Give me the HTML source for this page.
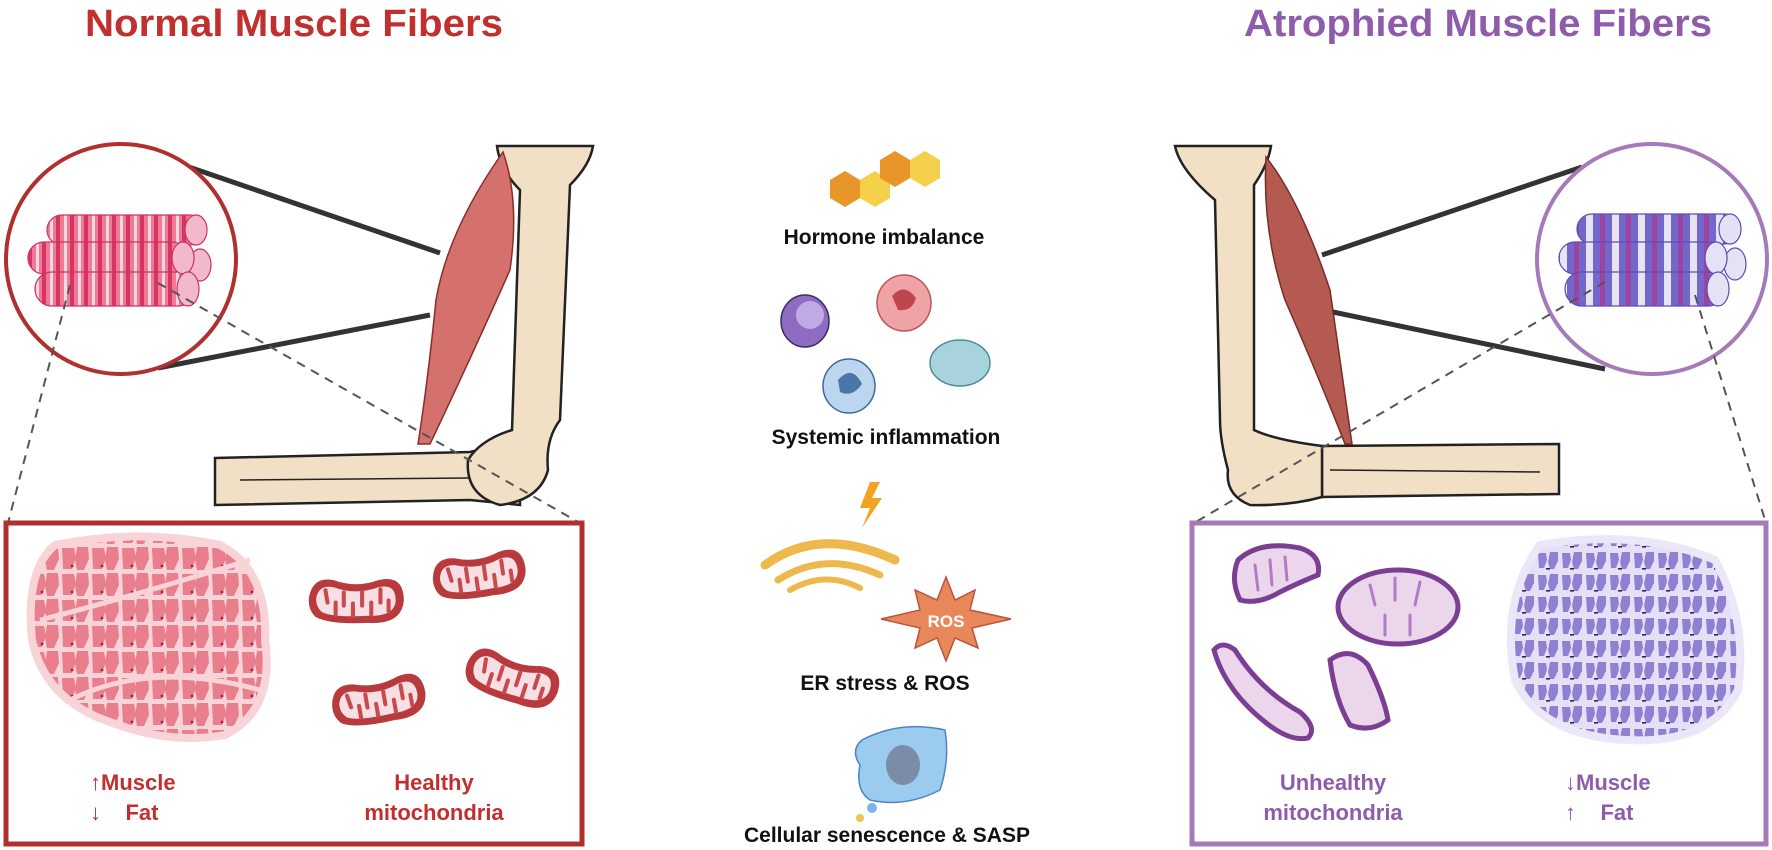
<!DOCTYPE html>
<html><head><meta charset="utf-8"><style>
html,body{margin:0;padding:0;background:#fff;}
svg{display:block;}
text{font-family:"Liberation Sans",sans-serif;font-weight:bold;}
</style></head><body>
<svg width="1772" height="850" viewBox="0 0 1772 850" xmlns="http://www.w3.org/2000/svg">
<defs>
<pattern id="cellR" width="30" height="26" patternUnits="userSpaceOnUse">
<rect width="30" height="26" fill="#f8d4d8"/>
<path d="M2 2h12l2 10-4 11H3zM17 1h11l1 12-5 11h-7l-2-10z" fill="#e97f8c"/>
<circle cx="12" cy="20" r="1.4" fill="#b0184a"/>
</pattern>
<pattern id="cellP" width="24" height="22" patternUnits="userSpaceOnUse">
<rect width="24" height="22" fill="#e6e0f6"/>
<path d="M2 3h8l1 7-3 8H3zM14 2h8l0 9-4 8h-4l-2-7z" fill="#8f80d2"/>
<rect x="10" y="18" width="4" height="1.6" fill="#2e2760"/>
</pattern>
<pattern id="fibR" width="14" height="10" patternUnits="userSpaceOnUse">
<rect width="14" height="10" fill="#ef7a95"/><rect width="4" height="10" fill="#d63563"/><rect x="8" width="3" height="10" fill="#fbd7df"/>
</pattern>
<pattern id="fibP" width="26" height="10" patternUnits="userSpaceOnUse">
<rect width="26" height="10" fill="#7467cc"/><rect width="7" height="10" fill="#e8e4f8"/><rect x="14" width="5" height="10" fill="#9c45a0"/>
</pattern>
<symbol id="mito" viewBox="0 0 100 56">
<path d="M4 24 Q8 4 28 8 Q50 16 72 8 Q97 2 97 28 Q95 52 62 50 Q24 52 10 44 Q2 36 4 24Z" fill="#b83a3c"/>
<path d="M11 25 Q14 12 28 15 Q50 23 72 15 Q89 11 89 28 Q88 44 62 43 Q26 45 16 39 Q10 33 11 25Z" fill="#f7dfe3"/>
<g stroke="#c94a4e" stroke-width="4" stroke-linecap="round">
<line x1="20" y1="18" x2="22" y2="30"/><line x1="30" y1="42" x2="30" y2="30"/><line x1="38" y1="20" x2="38" y2="33"/>
<line x1="47" y1="43" x2="47" y2="31"/><line x1="56" y1="20" x2="56" y2="33"/><line x1="65" y1="42" x2="65" y2="30"/>
<line x1="74" y1="17" x2="74" y2="30"/><line x1="82" y1="38" x2="82" y2="28"/>
</g>
</symbol>
</defs>

<!-- Titles -->
<text x="294" y="36" font-size="38" fill="#c1302e" text-anchor="middle" textLength="418" lengthAdjust="spacingAndGlyphs">Normal Muscle Fibers</text>
<text x="1478" y="36" font-size="38" fill="#8f5cab" text-anchor="middle" textLength="468" lengthAdjust="spacingAndGlyphs">Atrophied Muscle Fibers</text>

<!-- LEFT ARM -->
<path d="M215 458 L470 452 L520 440 L520 505 L470 500 L215 505 Z" fill="#f1dfc6" stroke="#222" stroke-width="2.5"/>
<line x1="240" y1="480" x2="470" y2="478" stroke="#222" stroke-width="1.5"/>
<path d="M497 146 L593 146 Q590 165 570 185 L560 420 Q545 440 548 470 Q540 500 500 505 Q465 495 468 460 Q480 440 512 430 L520 190 Q500 170 497 146Z" fill="#f1dfc6" stroke="#222" stroke-width="2.5"/>
<path d="M503 152 Q448 230 436 300 Q428 380 418 444 L430 444 Q470 360 510 270 Q520 200 503 152Z" fill="#d4716c" stroke="#8a2d2a" stroke-width="1.5"/>
<line x1="183" y1="165" x2="440" y2="253" stroke="#333" stroke-width="5"/>
<line x1="158" y1="368" x2="430" y2="315" stroke="#333" stroke-width="5"/>
<circle cx="121" cy="259" r="115" fill="#fff" stroke="#b0302f" stroke-width="4"/>
<g stroke="#d0305e" stroke-width="1.2">
<rect x="47" y="215" width="158" height="30" rx="15" fill="url(#fibR)"/>
<rect x="28" y="242" width="160" height="32" rx="16" fill="url(#fibR)"/>
<rect x="35" y="272" width="160" height="34" rx="17" fill="url(#fibR)"/>
<ellipse cx="196" cy="230" rx="11" ry="15" fill="#f2b9cc"/>
<ellipse cx="200" cy="265" rx="11" ry="16" fill="#f2b9cc"/>
<ellipse cx="183" cy="258" rx="11" ry="16" fill="#f2b9cc"/>
<ellipse cx="188" cy="289" rx="11" ry="17" fill="#f2b9cc"/>
</g>
<line x1="70" y1="285" x2="8" y2="523" stroke="#555" stroke-width="2" stroke-dasharray="9,7"/>
<line x1="158" y1="283" x2="580" y2="523" stroke="#555" stroke-width="2" stroke-dasharray="9,7"/>
<rect x="6" y="523" width="576" height="321" fill="#fff" stroke="#b0302f" stroke-width="5"/>
<path d="M55 545 Q140 528 220 545 Q268 570 265 640 Q275 710 225 735 Q170 745 110 722 Q45 700 32 640 Q25 570 55 545Z" fill="url(#cellR)" stroke="#f8d4d8" stroke-width="8"/>
<path d="M40 620 Q120 600 250 560 M70 700 Q150 660 260 690" stroke="#f8d4d8" stroke-width="5" fill="none"/>
<use href="#mito" x="305" y="572" width="102" height="57"/>
<use href="#mito" x="427" y="547" width="104" height="56" transform="rotate(-8 479 575)"/>
<use href="#mito" x="328" y="672" width="101" height="57" transform="rotate(-10 378 700)"/>
<use href="#mito" x="461" y="650" width="102" height="57" transform="rotate(18 512 678)"/>
<text x="90" y="790" font-size="22" fill="#c1302e">↑Muscle</text>
<text x="90" y="820" font-size="22" fill="#c1302e">↓&#160;&#160;&#160;&#160;Fat</text>
<text x="434" y="790" font-size="22" fill="#c1302e" text-anchor="middle">Healthy</text>
<text x="434" y="820" font-size="22" fill="#c1302e" text-anchor="middle">mitochondria</text>

<!-- RIGHT ARM -->
<path d="M1322 446 L1559 444 L1559 494 L1322 497 Z" fill="#f1dfc6" stroke="#222" stroke-width="2.5"/>
<line x1="1330" y1="470" x2="1540" y2="472" stroke="#222" stroke-width="1.5"/>
<path d="M1175 146 L1271 146 Q1268 165 1254 185 L1254 430 Q1275 440 1322 446 L1322 497 Q1290 506 1250 505 Q1225 495 1228 470 Q1220 440 1220 420 L1215 200 Q1180 170 1175 146Z" fill="#f1dfc6" stroke="#222" stroke-width="2.5"/>
<path d="M1266 157 Q1262 230 1285 300 Q1320 380 1345 444 L1352 444 Q1340 360 1330 290 Q1300 200 1266 157Z" fill="#b45a51" stroke="#7a2c28" stroke-width="1.5"/>
<line x1="1322" y1="255" x2="1582" y2="167" stroke="#333" stroke-width="5"/>
<line x1="1333" y1="312" x2="1605" y2="369" stroke="#333" stroke-width="5"/>
<circle cx="1652" cy="259" r="115" fill="#fff" stroke="#a57ab8" stroke-width="4"/>
<g stroke="#5b4cb0" stroke-width="1.2">
<rect x="1577" y="214" width="162" height="30" rx="15" fill="url(#fibP)"/>
<rect x="1559" y="242" width="165" height="32" rx="16" fill="url(#fibP)"/>
<rect x="1565" y="272" width="160" height="34" rx="17" fill="url(#fibP)"/>
<ellipse cx="1730" cy="229" rx="11" ry="15" fill="#e6e2f6"/>
<ellipse cx="1735" cy="264" rx="11" ry="16" fill="#e6e2f6"/>
<ellipse cx="1716" cy="258" rx="11" ry="16" fill="#e6e2f6"/>
<ellipse cx="1718" cy="289" rx="11" ry="17" fill="#e6e2f6"/>
</g>
<line x1="1605" y1="282" x2="1194" y2="523" stroke="#555" stroke-width="2" stroke-dasharray="9,7"/>
<line x1="1695" y1="295" x2="1766" y2="523" stroke="#555" stroke-width="2" stroke-dasharray="9,7"/>
<rect x="1192" y="523" width="574" height="321" fill="#fff" stroke="#a57ab8" stroke-width="5"/>
<path d="M1540 545 Q1640 528 1715 560 Q1748 620 1738 690 Q1710 745 1625 740 Q1540 735 1515 680 Q1500 600 1540 545Z" fill="url(#cellP)" stroke="#ebe6f8" stroke-width="8"/>
<g stroke="#7a3f93" stroke-width="5" fill="#ecd6ec">
<path d="M1238 560 Q1260 540 1300 548 Q1322 555 1318 575 Q1300 582 1280 592 Q1258 605 1240 600 Q1230 580 1238 560Z"/>
<ellipse cx="1398" cy="607" rx="60" ry="37"/>
<path d="M1214 650 Q1222 640 1235 650 Q1260 690 1300 712 Q1318 728 1308 738 Q1290 742 1265 722 Q1225 690 1214 650Z"/>
<path d="M1330 660 Q1350 645 1368 665 Q1385 700 1388 720 Q1370 733 1350 725 Q1335 700 1330 660Z"/>
</g>
<g stroke="#b47ac8" stroke-width="3" stroke-linecap="round">
<line x1="1255" y1="565" x2="1258" y2="590"/><line x1="1270" y1="560" x2="1272" y2="585"/><line x1="1285" y1="557" x2="1287" y2="580"/>
<line x1="1370" y1="585" x2="1375" y2="605"/><line x1="1395" y1="578" x2="1395" y2="600"/><line x1="1420" y1="582" x2="1415" y2="605"/><line x1="1385" y1="635" x2="1385" y2="615"/><line x1="1410" y1="635" x2="1410" y2="615"/>
</g>
<text x="1333" y="790" font-size="22" fill="#8f5cab" text-anchor="middle">Unhealthy</text>
<text x="1333" y="820" font-size="22" fill="#8f5cab" text-anchor="middle">mitochondria</text>
<text x="1565" y="790" font-size="22" fill="#8f5cab">↓Muscle</text>
<text x="1565" y="820" font-size="22" fill="#8f5cab">↑&#160;&#160;&#160;&#160;Fat</text>

<!-- CENTER -->
<g>
<polygon points="830,180 845,171 860,180 860,198 845,207 830,198" fill="#e8952a"/>
<polygon points="860,180 875,171 890,180 890,198 875,207 860,198" fill="#f5d04a"/>
<polygon points="880,160 895,151 910,160 910,178 895,187 880,178" fill="#e8952a"/>
<polygon points="910,160 925,151 940,160 940,178 925,187 910,178" fill="#f5d04a"/>
<text x="884" y="244" font-size="21" fill="#111" text-anchor="middle">Hormone imbalance</text>
<ellipse cx="805" cy="321" rx="24" ry="26" fill="#8d6cc2" stroke="#3b2b62" stroke-width="1.5"/>
<circle cx="810" cy="315" r="14" fill="#c0aae6"/>
<ellipse cx="904" cy="303" rx="27" ry="28" fill="#f0a3a6" stroke="#b65a5e" stroke-width="1.5"/>
<path d="M892 296 Q904 282 916 298 Q912 312 898 310Z" fill="#c0464e"/>
<ellipse cx="849" cy="386" rx="26" ry="27" fill="#bcd6f0" stroke="#3a6a9c" stroke-width="1.5"/>
<path d="M838 380 Q852 364 862 384 Q852 398 840 392Z" fill="#4a77a8"/>
<ellipse cx="960" cy="363" rx="30" ry="23" fill="#a9d3dc" stroke="#4c8c9c" stroke-width="1.5"/>
<text x="886" y="444" font-size="21" fill="#111" text-anchor="middle">Systemic inflammation</text>
<polygon points="870,482 860,508 870,508 862,528 882,498 872,498 880,482" fill="#f2a322"/>
<path d="M765 565 Q820 525 895 560" stroke="#edb84c" stroke-width="9" fill="none" stroke-linecap="round"/>
<path d="M778 580 Q825 550 880 575" stroke="#edb84c" stroke-width="7" fill="none" stroke-linecap="round"/>
<path d="M790 590 Q825 570 860 588" stroke="#edb84c" stroke-width="6" fill="none" stroke-linecap="round"/>
<polygon points="946,577 955,600 975,590 970,610 1011,619 972,628 978,648 955,638 946,661 937,638 915,648 920,628 881,619 920,610 915,590 937,600" fill="#e8885a" stroke="#b8553a" stroke-width="1.5"/>
<text x="946" y="627" font-size="17" fill="#fff" text-anchor="middle" font-weight="normal">ROS</text>
<text x="885" y="690" font-size="21" fill="#111" text-anchor="middle">ER stress &amp; ROS</text>
<path d="M862 740 Q900 720 945 730 Q950 760 940 790 Q905 808 870 800 Q855 790 860 765 Q850 750 862 740Z" fill="#9ccbf0" stroke="#4a86c0" stroke-width="1.5"/>
<ellipse cx="903" cy="765" rx="17" ry="20" fill="#7a8ca6"/>
<circle cx="872" cy="808" r="5" fill="#7ab4e8"/>
<circle cx="860" cy="818" r="4" fill="#f4c34a"/>
<text x="887" y="842" font-size="21" fill="#111" text-anchor="middle">Cellular senescence &amp; SASP</text>
</g>
</svg>
</body></html>
